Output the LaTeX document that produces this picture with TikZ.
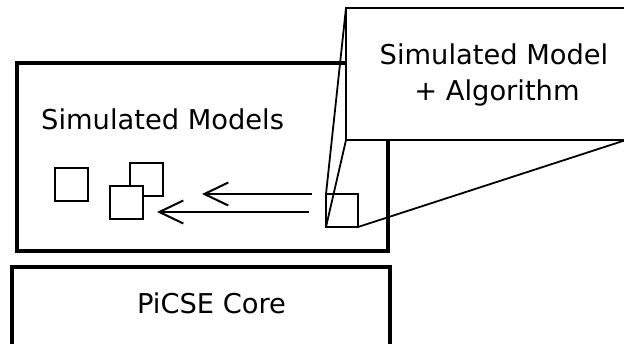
\documentclass[tikz,border=0pt]{standalone}
\usepackage{fontspec}
\setmainfont{DejaVu Sans}
\usetikzlibrary{arrows.meta}
\begin{document}
\begin{tikzpicture}[x=1pt,y=-1pt,
  heavybox/.style={draw=black,line width=3.3pt,fill=white,rectangle,inner sep=0pt,outer sep=0pt},
  thinbox/.style={draw=black,line width=2pt,fill=white,rectangle,inner sep=0pt,outer sep=0pt},
  label text/.style={inner sep=0pt,font=\fontsize{27.3}{33}\selectfont},
  zoomline/.style={draw=black,line width=1.8pt},
  flow/.style={draw=black,line width=2pt,-{Straight Barb[length=24pt,width=23pt,line width=2pt]}}]
  \useasboundingbox (0,0) rectangle (624,343);
  \clip (0,0) rectangle (624,343);

  % container for the simulated models
  \node (models) [heavybox,minimum width=371pt,minimum height=188pt] at (202.5,157) {};
  \node (modelsTitle) [label text,anchor=base west] at (41,129) {Simulated Models};

  % core underneath
  \node (core) [heavybox,minimum width=378pt,minimum height=83pt] at (201,308.5) {};
  \node (coreText) [label text,anchor=base] at (211.5,313) {PiCSE Core};

  % model instances
  \node (m1) [thinbox,minimum width=33pt,minimum height=33pt] at (71.5,184.5) {};
  \node (m2) [thinbox,minimum width=33pt,minimum height=33pt] at (146.5,179.5) {};
  \node (m3) [thinbox,minimum width=33pt,minimum height=33pt] at (126,202.5) {};

  % the model being produced
  \node (src) [thinbox,minimum width=32pt,minimum height=33pt] at (342,210.5) {};

  % arrows towards the instances
  \coordinate (a1s) at (312,194);
  \coordinate (a1e) at (202,194);
  \coordinate (a2s) at (309,212);
  \coordinate (a2e) at (157,212);
  \draw[flow] (a1s) -- (a1e);
  \draw[flow] (a2s) -- (a2e);

  % magnified view of the single model
  \node (callout) [thinbox,minimum width=280pt,minimum height=132pt] at (486,74) {};
  \node (calloutA) [label text,anchor=base] at (494,64) {Simulated Model};
  \node (calloutB) [label text,anchor=base] at (497,100) {+ Algorithm};

  \draw[zoomline] (src.north west) -- (callout.north west);
  \draw[zoomline] (src.south west) -- (callout.south west);
  \draw[zoomline] (src.south east) -- (callout.south east);
\end{tikzpicture}
\end{document}
